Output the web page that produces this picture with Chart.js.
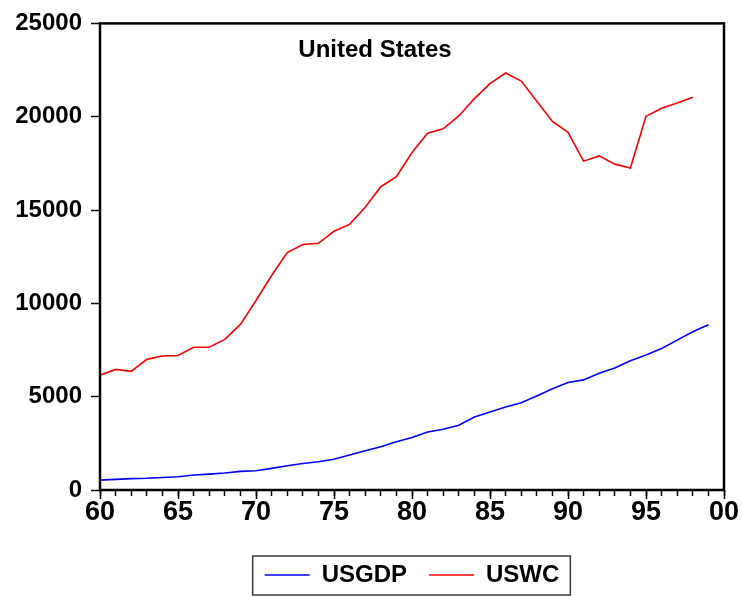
<!DOCTYPE html>
<html>
<head>
<meta charset="utf-8">
<title>United States</title>
<script src="https://cdn.jsdelivr.net/npm/chart.js@4/dist/chart.umd.min.js"></script>
<style>
  html, body { margin: 0; padding: 0; background: #ffffff; }
  canvas { display: block; }
</style>
</head>
<body>
<canvas id="chart" width="742" height="597"></canvas>
<script>
// Years (two-digit), 1960-1999
const years = [60, 61, 62, 63, 64, 65, 66, 67, 68, 69,
               70, 71, 72, 73, 74, 75, 76, 77, 78, 79,
               80, 81, 82, 83, 84, 85, 86, 87, 88, 89,
               90, 91, 92, 93, 94, 95, 96, 97, 98, 99];

// US GDP, 1960-1999
const usgdp = [530, 570, 610, 630, 670, 710, 800, 850, 910, 1000,
               1030, 1160, 1300, 1420, 1510, 1650, 1870, 2100, 2320, 2580,
               2810, 3110, 3250, 3470, 3910, 4180, 4450, 4680, 5040, 5420,
               5760, 5900, 6260, 6540, 6930, 7230, 7580, 8030, 8480, 8850];

// US WC, 1960-1998
const uswc = [6150, 6460, 6360, 7000, 7180, 7210, 7650, 7650, 8070, 8870,
              10150, 11490, 12720, 13150, 13220, 13860, 14230, 15150, 16250, 16790,
              18080, 19120, 19350, 20040, 20970, 21770, 22340, 21910, 20830, 19750,
              19160, 17620, 17900, 17460, 17250, 20020, 20450, 20730, 21040];

// Axis tick values
const yTicks = [0, 5000, 10000, 15000, 20000, 25000];
const xMajorTicks = [60, 65, 70, 75, 80, 85, 90, 95, 100];

const seriesNames = ['USGDP', 'USWC'];
const chartTitle = 'United States';

const SANS = '"Liberation Sans", Arial, Helvetica, sans-serif';

function toPoints(values) {
  return values.map((v, i) => ({ x: years[i], y: v }));
}

// White page, plot frame, in-plot title and legend border
const decorations = {
  id: 'decorations',
  beforeDraw(chart) {
    const ctx = chart.ctx;
    ctx.save();
    ctx.fillStyle = '#ffffff';
    ctx.fillRect(0, 0, chart.width, chart.height);
    ctx.restore();
  },
  afterDraw(chart) {
    const ctx = chart.ctx;
    const a = chart.chartArea;
    ctx.save();
    // frame round the plot
    ctx.strokeStyle = '#000000';
    ctx.lineWidth = 2.5;
    ctx.strokeRect(a.left, a.top, a.right - a.left, a.bottom - a.top);
    // title inside the plot
    ctx.fillStyle = '#000000';
    ctx.font = 'bold 24px ' + SANS;
    ctx.textAlign = 'center';
    ctx.textBaseline = 'alphabetic';
    ctx.fillText(chartTitle, a.left + (a.right - a.left) * 0.4407, a.top + 33.5);
    // border round the legend
    const boxes = chart.legend && chart.legend.legendHitBoxes;
    if (boxes && boxes.length) {
      const first = boxes[0];
      const last = boxes[boxes.length - 1];
      const left = first.left - 12;
      const right = last.left + last.width + 11;
      const top = first.top - 7;
      const bottom = first.top + first.height + 8;
      ctx.strokeStyle = '#3a3a3a';
      ctx.lineWidth = 1.5;
      ctx.strokeRect(left, top, right - left, bottom - top);
    }
    ctx.restore();
  }
};

const chart = new Chart(document.getElementById('chart'), {
  type: 'line',
  data: {
    datasets: [
      {
        label: seriesNames[0],
        data: toPoints(usgdp),
        borderColor: '#0000ff',
        backgroundColor: '#0000ff',
        borderWidth: 1.6,
        pointRadius: 0,
        tension: 0,
        fill: false
      },
      {
        label: seriesNames[1],
        data: toPoints(uswc),
        borderColor: '#ff0000',
        backgroundColor: '#ff0000',
        borderWidth: 1.6,
        pointRadius: 0,
        tension: 0,
        fill: false
      }
    ]
  },
  options: {
    responsive: false,
    animation: false,
    devicePixelRatio: 1,
    layout: { padding: { top: 22, right: 18, left: 0, bottom: 0 } },
    plugins: {
      title: { display: false },
      tooltip: { enabled: false },
      legend: {
        display: true,
        position: 'bottom',
        fullSize: false,
        labels: {
          usePointStyle: true,
          pointStyle: 'line',
          pointStyleWidth: 45,
          boxWidth: 45,
          padding: 22,
          color: '#000000',
          font: { family: SANS, size: 24, weight: 'bold' },
          generateLabels(chart) {
            const items = Chart.defaults.plugins.legend.labels.generateLabels(chart);
            items.forEach(it => { it.lineWidth = 1.3; it.pointStyle = 'line'; });
            return items;
          }
        }
      }
    },
    scales: {
      x: {
        type: 'linear',
        position: 'bottom',
        weight: 1,
        min: 60,
        max: 100,
        afterBuildTicks(scale) {
          scale.ticks = xMajorTicks.map(v => ({ value: v }));
        },
        afterFit(scale) { scale.height = 51; },
        border: { display: false },
        grid: {
          drawOnChartArea: false,
          drawTicks: true,
          tickLength: 9,
          tickWidth: 1.5,
          tickColor: '#000000'
        },
        ticks: {
          autoSkip: false,
          maxRotation: 0,
          padding: 0,
          color: '#000000',
          font: { family: SANS, size: 27, weight: 'bold', lineHeight: 1 },
          callback: v => (v % 100 === 0 ? '00' : String(v % 100))
        }
      },
      xMinor: {
        type: 'linear',
        position: 'bottom',
        weight: 0,
        min: 60,
        max: 100,
        afterBuildTicks(scale) {
          scale.ticks = years.concat([100]).map(v => ({ value: v }));
        },
        afterFit(scale) { scale.height = 0; },
        border: { display: false },
        grid: {
          drawOnChartArea: false,
          drawTicks: true,
          tickLength: 6,
          tickWidth: 1.5,
          tickColor: '#000000'
        },
        ticks: { display: false, autoSkip: false }
      },
      y: {
        type: 'linear',
        position: 'left',
        min: 0,
        max: 25000,
        afterBuildTicks(scale) {
          scale.ticks = yTicks.map(v => ({ value: v }));
        },
        afterFit(scale) { scale.width = 100; },
        border: { display: false },
        grid: {
          drawOnChartArea: false,
          drawTicks: true,
          tickLength: 9,
          tickWidth: 1.5,
          tickColor: '#000000'
        },
        ticks: {
          padding: 9,
          color: '#000000',
          font: { family: SANS, size: 24, weight: 'bold', lineHeight: 1.2 },
          callback: v => String(v)
        }
      }
    }
  },
  plugins: [decorations]
});
</script>
</body>
</html>
